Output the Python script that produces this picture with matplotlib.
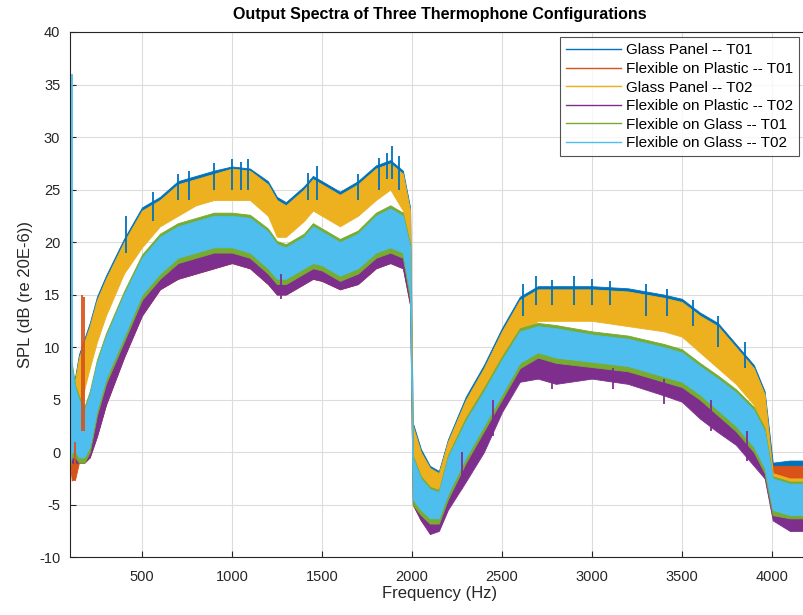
import matplotlib
matplotlib.use('Agg')
import matplotlib.pyplot as plt
from matplotlib.lines import Line2D

plt.rcParams['font.family'] = ['Liberation Sans', 'DejaVu Sans']
plt.rcParams['axes.unicode_minus'] = False

# frequency grid (Hz) at which the band edges were read
freq = [100, 110, 130, 150, 180, 210, 250, 300, 400, 500,
        600, 700, 800, 900, 1000, 1100, 1200, 1250, 1300, 1400,
        1450, 1500, 1600, 1700, 1800, 1880, 1950, 1990, 2005, 2050,
        2100, 2150, 2200, 2300, 2400, 2500, 2600, 2700, 2800, 3000,
        3200, 3400, 3500, 3600, 3700, 3800, 3900, 3960, 4005, 4100, 4210]

# Glass Panel -- T01 (low / high edge of the noisy trace)
glass_t01_lo = [1.5, 0.5, 1.5, 3.5, 6.5, 8.5, 11, 13.5, 17.5, 20,
                22, 23, 24, 24.5, 24.5, 24.5, 23, 21, 21, 22.5,
                23.5, 23, 22, 23, 24.5, 25.5, 23.5, 19.5, -1.5, -3,
                -4.5, -4.5, -2, 2, 5, 8.5, 11.5, 13, 13, 13,
                12.5, 12, 11.5, 10, 8.5, 7, 5, 2, -3.5, -3.5, -3.5]
glass_t01_hi = [7.3, 6.3, 7.3, 9.3, 10.8, 12.3, 14.8, 16.8, 20.3, 23.3,
                24.3, 25.8, 26.3, 26.8, 27.2, 27, 25.8, 24.3, 23.8, 25.3,
                26.3, 25.8, 24.8, 25.8, 27.3, 27.8, 26.8, 23.3, 2.8, 0.3,
                -1.3, -1.8, 1.2, 5.3, 8.3, 11.8, 14.8, 15.8, 15.8, 15.8,
                15.6, 15, 14.6, 13.3, 12.3, 10.3, 8.3, 5.8, -1.0, -0.8, -0.8]

# Flexible on Plastic -- T01
plastic_t01_lo = [-1, -2.7, -2.5, -1, -1, -0.5, 1.5, 4.5, 9, 13,
                  15.5, 16.5, 17, 17.5, 18, 17.5, 16, 15, 15, 16,
                  16.5, 16.3, 15.5, 16, 17.5, 18, 17.5, 14, -5, -6.5,
                  -7.5, -7.3, -5.3, -2.5, 0.3, 4, 7, 7.2, 6.8, 7.2,
                  6.8, 5.6, 5, 3.5, 2.2, 1, -1, -2.3, -3.8, -3.8, -3.8]
plastic_t01_hi = [4, 2, 1.5, 3, 2.5, 3.5, 6.3, 9.3, 13.3, 17.2,
                  19.3, 20.2, 20.7, 21, 21.2, 21, 19.7, 18.7, 18.3, 19.2,
                  20, 19.7, 18.7, 19.7, 21.2, 21.5, 21, 18.3, -1.3, -2.8,
                  -4.3, -4.3, -2.3, 1, 4.2, 6.8, 9.7, 10.2, 9.7, 10,
                  9.5, 8.7, 8.2, 6.7, 5.7, 4.2, 2.7, 0.8, -1.3, -1.3, -1.3]

# Glass Panel -- T02
glass_t02_lo = [1, 0, 1, 3, 6, 8, 10.5, 13, 17, 19.5,
                21.5, 22.5, 23.5, 24, 24, 24, 22.5, 20.5, 20.5, 22,
                23, 22.5, 21.5, 22.5, 24, 25, 23, 19, -2, -3.5,
                -5, -5, -2.5, 1.5, 4.5, 8, 11, 12.5, 12.5, 12.5,
                12, 11.5, 11, 9.5, 8, 6.5, 4.5, 1.5, -4.5, -5, -5]
glass_t02_hi = [7, 6, 7, 9, 10.5, 12, 14.5, 16.5, 20, 23,
                24, 25.5, 26, 26.5, 27, 26.8, 25.5, 24, 23.5, 25,
                26, 25.5, 24.5, 25.5, 27, 27.5, 26.5, 23, 2.5, 0,
                -1.5, -2, 1, 5, 8, 11.5, 14.5, 15.5, 15.5, 15.5,
                15.3, 14.7, 14.3, 13, 12, 10, 8, 5.5, -2, -2.5, -2.5]

# Flexible on Plastic -- T02
plastic_t02_lo = [-1, -1, -1, -1, -1, -0.5, 1.5, 4.5, 9, 13,
                  15.5, 16.5, 17, 17.5, 18, 17.5, 16, 15, 15, 16,
                  16.5, 16.3, 15.5, 16, 17.5, 18, 17.5, 14, -5, -6.5,
                  -7.8, -7.5, -5.5, -2.8, 0, 3.8, 6.7, 7, 6.5, 7,
                  6.5, 5.4, 4.8, 3.2, 1.9, 0.7, -1.3, -2.5, -6.5, -7.5, -7.5]
plastic_t02_hi = [8.5, 6, 4, 3, 2, 3, 6, 9, 13, 17,
                  19, 20, 20.5, 21, 21, 21, 19.5, 18.5, 18, 19,
                  20, 19.5, 18.5, 19.5, 21, 21.5, 21, 18, -1.5, -3,
                  -4.5, -4.5, -2.5, 0.7, 4, 6.5, 9.5, 10, 9.5, 9.8,
                  9.3, 8.5, 8, 6.5, 5.5, 4, 2.5, 0.5, -3, -4, -4]

# Flexible on Glass -- T01
flexglass_t01_lo = [-1.5, -0.5, -0.5, -1, -1, 0, 3.5, 6.5, 10.5, 14.5,
                    16.5, 18, 18.5, 19, 19, 18.5, 17, 16, 16, 17,
                    17.5, 17.3, 16.3, 17, 18.5, 19, 18.5, 14.5, -5, -6,
                    -6.8, -6.8, -4.5, -1, 2, 5, 8, 9, 8.5, 8.1,
                    7.7, 6.7, 6.2, 5, 3.5, 2, 0, -2, -6, -6.3, -6.3]
flexglass_t01_hi = [7.5, 8.5, 6.3, 5.3, 4.3, 5.8, 8.8, 11.3, 15.3, 18.8,
                    20.8, 21.8, 22.3, 22.8, 22.8, 22.6, 21.3, 20.1, 19.8, 20.8,
                    21.8, 21.3, 20.3, 21.1, 22.8, 23.5, 22.8, 19.8, -0.3, -2.3,
                    -3.3, -3.6, -0.3, 3.3, 6.1, 9.1, 11.8, 12.3, 12.1, 11.5,
                    11.1, 10.3, 9.8, 8.5, 7.3, 6, 4.3, 2.3, -2.3, -2.8, -2.8]

# Flexible on Glass -- T02
flexglass_t02_lo = [-1, 0, 0, -0.5, -0.5, 0.5, 4, 7, 11, 15,
                    17, 18.5, 19, 19.5, 19.5, 19, 17.5, 16.5, 16.5, 17.5,
                    18, 17.8, 16.8, 17.5, 19, 19.5, 19, 15, -4.5, -5.5,
                    -6.3, -6.3, -4, -0.5, 2.5, 5.5, 8.5, 9.5, 9, 8.6,
                    8.2, 7.2, 6.7, 5.5, 4, 2.5, 0.5, -1.5, -5.5, -6, -6]
flexglass_t02_hi = [7, 8, 6, 5, 4, 5.5, 8.5, 11, 15, 18.5,
                    20.5, 21.5, 22, 22.5, 22.5, 22.3, 21, 19.8, 19.5, 20.5,
                    21.5, 21, 20, 20.8, 22.5, 23.2, 22.5, 19.5, -0.5, -2.5,
                    -3.5, -3.8, -0.5, 3, 5.8, 8.8, 11.5, 12, 11.8, 11.2,
                    10.8, 10, 9.5, 8.2, 7, 5.7, 4, 2, -2.5, -3, -3]

# isolated spikes: (freq, bottom, top)
glass_t01_spikes = [(410, 19, 22.5), (560, 22, 24.8), (700, 24, 26.5), (760, 24, 26.8),
                    (900, 25, 27.5), (1000, 25, 27.9), (1050, 25, 27.6), (1090, 25, 27.9),
                    (1420, 24, 26.6), (1475, 24, 27.2), (1700, 24, 26.5), (1820, 25, 28),
                    (1860, 26, 28.5), (1890, 26, 29.1), (1930, 25, 28.2),
                    (2620, 13, 16), (2690, 14, 16.8), (2780, 14, 16.4), (2900, 14, 16.8),
                    (3000, 14, 16.5), (3100, 14, 16.3), (3300, 13, 16), (3420, 13, 15.5),
                    (3560, 12, 14.5), (3700, 10, 13), (3850, 8, 10.5)]
plastic_t01_spikes = [(165, 2, 15), (180, 2, 14.8), (130, -2.7, 1)]
plastic_t02_spikes = [(1270, 14.6, 17), (2280, -3.5, 0), (2450, 1.5, 5), (2780, 6, 8),
                      (3120, 6, 8), (3400, 4.6, 7), (3660, 2, 5), (3860, -0.8, 2)]
flexglass_t02_spikes = [(112, 5, 36)]

names = ['Glass Panel -- T01', 'Flexible on Plastic -- T01', 'Glass Panel -- T02',
         'Flexible on Plastic -- T02', 'Flexible on Glass -- T01', 'Flexible on Glass -- T02']
colors = ['#0072BD', '#D95319', '#EDB120', '#7E2F8E', '#77AC30', '#4DBEEE']
lows = [glass_t01_lo, plastic_t01_lo, glass_t02_lo, plastic_t02_lo, flexglass_t01_lo, flexglass_t02_lo]
highs = [glass_t01_hi, plastic_t01_hi, glass_t02_hi, plastic_t02_hi, flexglass_t01_hi, flexglass_t02_hi]
spikes = [glass_t01_spikes, plastic_t01_spikes, [], plastic_t02_spikes, [], flexglass_t02_spikes]

fig = plt.figure(figsize=(8.04, 6.15), dpi=100)
ax = fig.add_axes([0.087, 0.094, 0.92, 0.854])

for lo, hi, c, sp in zip(lows, highs, colors, spikes):
    ax.fill_between(freq, lo, hi, color=c, linewidth=0.6)
    for f, b, t in sp:
        ax.vlines(f, b, t, color=c, linewidth=1.3)

ax.set_xlim(100, 4210)
ax.set_ylim(-10, 40)
ax.set_xticks([500, 1000, 1500, 2000, 2500, 3000, 3500, 4000])
ax.set_yticks(range(-10, 41, 5))
ax.grid(True, color='#dcdcdc', linewidth=0.8)
ax.set_axisbelow(True)
ax.tick_params(direction='in', labelsize=10.5, colors='#262626', length=4)
ax.tick_params(axis='x', pad=9)
ax.tick_params(axis='y', pad=7)
for s in ax.spines.values():
    s.set_color('#262626')

ax.set_title('Output Spectra of Three Thermophone Configurations', fontsize=11.5,
             fontweight='bold', pad=9)
ax.set_xlabel('Frequency (Hz)', fontsize=12, color='#262626', labelpad=2)
ax.set_ylabel('SPL (dB (re 20E-6))', fontsize=12, color='#262626')

handles = [Line2D([0], [0], color=c, linewidth=1) for c in colors]
leg = ax.legend(handles, names, loc='upper right', fontsize=11, handlelength=3.6,
                handletextpad=0.3, labelspacing=0.3, borderaxespad=0.35, fancybox=False,
                borderpad=0.4, bbox_to_anchor=(0.993, 1.0))
leg.get_frame().set_edgecolor('#262626')
leg.get_frame().set_linewidth(0.8)

fig.savefig('out.png', dpi=100)
